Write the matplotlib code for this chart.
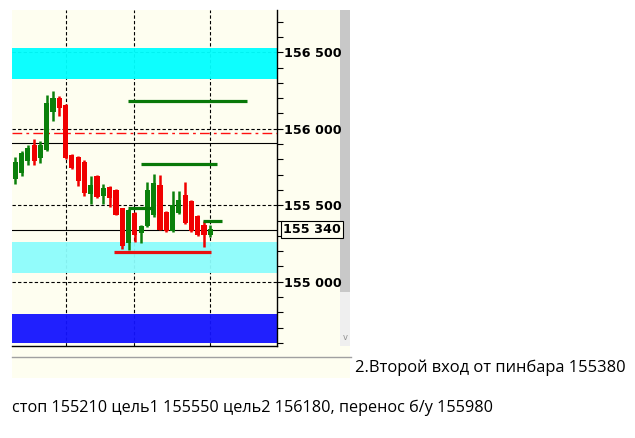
import matplotlib
matplotlib.use('Agg')
import matplotlib.pyplot as plt
from matplotlib.patches import Rectangle
from matplotlib.lines import Line2D
import numpy as np

W, H = 635, 438

# candles (price), left to right
opens = [155674, 155715, 155791, 155889, 155813, 155868, 156117, 156194, 156150, 155824, 155811,
         155778, 155576, 155689, 155563, 155617, 155596, 155476, 155259, 155444, 155324, 155368,
         155444, 155628, 155454, 155335, 155454, 155563, 155520, 155422, 155368, 155313]
highs = [155813, 155857, 155894, 155933, 155922, 156220, 156248, 156211, 156161, 155835, 155824,
         155798, 155689, 155700, 155639, 155628, 155607, 155480, 155476, 155454, 155368, 155650,
         155705, 155698, 155465, 155596, 155596, 155650, 155531, 155433, 155400, 155372]
lows = [155639, 155694, 155763, 155763, 155776, 155857, 156052, 156085, 155802, 155737, 155628,
        155563, 155511, 155546, 155509, 155487, 155433, 155216, 155205, 155259, 155250, 155357,
        155422, 155335, 155328, 155324, 155444, 155379, 155324, 155302, 155226, 155291]
closes = [155780, 155837, 155868, 155791, 155889, 156161, 156194, 156139, 155813, 155748, 155661,
          155583, 155628, 155559, 155609, 155552, 155444, 155237, 155465, 155313, 155357, 155596,
          155639, 155346, 155335, 155498, 155531, 155389, 155335, 155313, 155313, 155340]

# zones (low, high)
zone_lo = [156324, 155057, 154598]
zone_hi = [156526, 155259, 154787]
zone_col = ['#00ffff', '#8cfcfc', '#1414ff']

# level segments: price, start bar, end bar
seg_price = [156180, 155772, 155485, 155396, 155192]
seg_x0 = [17.9, 20.0, 17.9, 29.8, 15.7]
seg_x1 = [36.8, 32.1, 21.9, 32.9, 31.1]
seg_col = ['#087808', '#087808', '#087808', '#087808', '#e81010']

grid_prices = [155000, 155500, 156000, 156500]
grid_bars = [8, 18.9, 31]
breakeven = 155975
solid_levels = [155907, 155340]
last_price = 155340

line1 = '2.Второй вход от пинбара 155380'
line2 = 'стоп 155210 цель1 155550 цель2 156180, перенос б/у 155980'

cream = '#fefef0'


def fx(x):
    return x / W


def fy(y):
    return 1 - y / H


fig = plt.figure(figsize=(W / 100, H / 100), dpi=100)
fig.patch.set_facecolor('white')

# panel background + bottom strip + scrollbar
fig.patches.append(Rectangle((fx(12), fy(378)), fx(350 - 12), (378 - 10) / H,
                             transform=fig.transFigure, facecolor=cream, edgecolor='none', zorder=-2))
fig.patches.append(Rectangle((fx(340), fy(292)), fx(10), (292 - 10) / H,
                             transform=fig.transFigure, facecolor='#c8c8c8', edgecolor='none', zorder=-1))
fig.patches.append(Rectangle((fx(340), fy(346)), fx(10), (346 - 292) / H,
                             transform=fig.transFigure, facecolor='#efefef', edgecolor='none', zorder=-1))
fig.lines.append(Line2D([fx(12), fx(351)], [fy(357), fy(357)], transform=fig.transFigure,
                        color='#a0a0a0', lw=1, zorder=-1))
fig.text(fx(345), fy(337), 'v', fontsize=6, color='#909090', ha='center', va='center')

ax = fig.add_axes([fx(12), fy(346), fx(277 - 12), (346 - 10) / H])
ax.set_zorder(2)
ax.set_facecolor(cream)

x = np.arange(len(opens))
ax.set_xlim(-0.52, 41.6)
ax.set_ylim(154580, 156776)

# zones
for lo, hi, c in zip(zone_lo, zone_hi, zone_col):
    ax.axhspan(lo, hi, color=c, lw=0, zorder=2, alpha=0.95)

# grid
for p in grid_prices:
    ax.axhline(p, color='black', lw=0.8, ls=(0, (3, 2)), zorder=1)
for b in grid_bars:
    ax.axvline(b, color='black', lw=0.8, ls=(0, (3, 2)), zorder=1)

for p in solid_levels:
    ax.axhline(p, color='black', lw=0.8, zorder=3)
ax.axhline(breakeven, color='#ff1010', lw=1.0, ls=(0, (7, 3, 2, 3)), zorder=3)

# candles
o = np.array(opens)
c = np.array(closes)
cols = np.where(c >= o, '#0b800b', '#f00000')
ax.vlines(x, lows, highs, colors=cols, lw=1.8, zorder=4)
ax.bar(x, np.abs(c - o) + 10, bottom=np.minimum(o, c) - 5, width=0.82, color=cols, zorder=5)

# level segments
for p, a, b, col in zip(seg_price, seg_x0, seg_x1, seg_col):
    ax.hlines(p, a, b, colors=col, lw=2.3, zorder=6)

# axes style
for s in ['top', 'left']:
    ax.spines[s].set_visible(False)
ax.spines['right'].set_linewidth(1)
ax.spines['bottom'].set_linewidth(1)
ax.set_xticks([])
ax.yaxis.tick_right()
ax.set_yticks(grid_prices)
ax.set_yticks(np.arange(154600, 156800, 100), minor=True)
ax.set_yticklabels([f'{p // 1000} {p % 1000:03d}' for p in grid_prices],
                   fontsize=9.2, fontweight='bold', family='DejaVu Sans')
ax.tick_params(axis='y', which='both', direction='out', length=4, width=0.8, pad=1)

ax.text(1.0 + 6 / (277 - 12), last_price, f'{last_price // 1000} {last_price % 1000:03d}',
        transform=ax.get_yaxis_transform(), fontsize=9.2, fontweight='bold', va='center', ha='left',
        bbox=dict(boxstyle='square,pad=0.15', facecolor=cream, edgecolor='black', lw=0.8), zorder=10)

fig.text(fx(355), fy(368), line1, fontsize=11.9, family='Open Sans', va='center', ha='left')
fig.text(fx(12), fy(408), line2, fontsize=11.7, family='Open Sans', va='center', ha='left')

fig.savefig('out.png', dpi=100, facecolor='white')
